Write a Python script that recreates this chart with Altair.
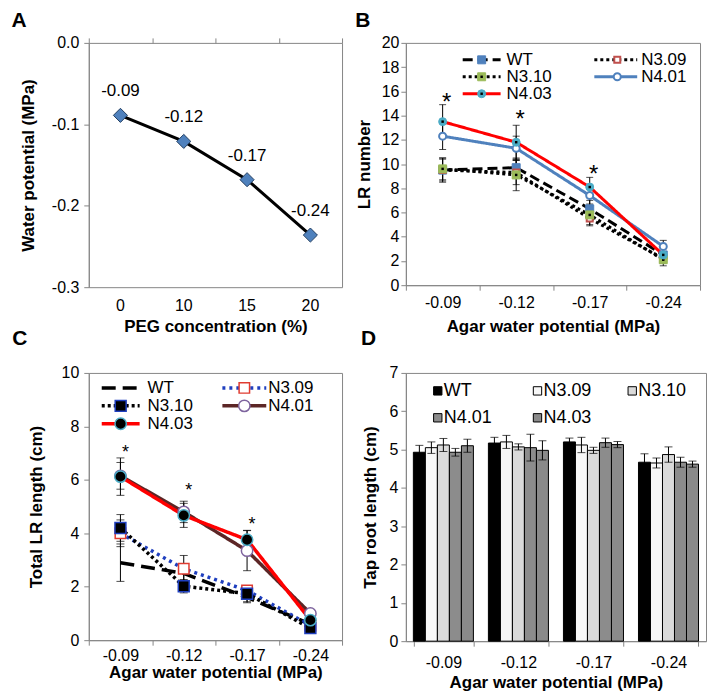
import altair as alt
import pandas as pd

FONT = "Liberation Sans"
GRAY = "#868686"

# ---------------- Panel A : PEG concentration vs water potential ----------------
peg_conc = ["0", "10", "15", "20"]
peg_potential = [-0.089, -0.121, -0.168, -0.236]
peg_potential_labels = ["-0.09", "-0.12", "-0.17", "-0.24"]

# ---------------- shared categories ----------------
agar_potential = ["-0.09", "-0.12", "-0.17", "-0.24"]
lines = ["WT", "N3.09", "N3.10", "N4.01", "N4.03"]

# ---------------- Panel B : LR number ----------------
lr_num_wt = [9.5, 9.7, 6.3, 2.5]
lr_num_n309 = [9.5, 9.3, 5.5, 2.2]
lr_num_n310 = [9.6, 9.1, 5.8, 2.1]
lr_num_n401 = [12.3, 11.3, 7.4, 3.2]
lr_num_n403 = [13.5, 11.8, 8.1, 2.5]
lr_num_wt_err = [0.9, 0.8, 0.7, 0.5]
lr_num_n309_err = [1.0, 1.0, 0.6, 0.4]
lr_num_n310_err = [0.9, 1.3, 0.8, 0.5]
lr_num_n401_err = [1.1, 1.0, 0.7, 0.5]
lr_num_n403_err = [1.4, 1.4, 0.8, 0.6]
lr_num_star_cat = ["-0.09", "-0.12", "-0.17"]
lr_num_star_y = [15.5, 14.1, 9.6]

# ---------------- Panel C : total LR length ----------------
lr_len_wt = [2.9, 2.5, 1.6, 0.6]
lr_len_n309 = [4.0, 2.67, 1.86, 0.55]
lr_len_n310 = [4.2, 2.02, 1.74, 0.45]
lr_len_n401 = [6.15, 4.8, 3.35, 1.0]
lr_len_n403 = [6.12, 4.67, 3.76, 0.75]
lr_len_wt_err = [0.7, 0.3, 0.2, 0.1]
lr_len_n309_err = [0.5, 0.5, 0.15, 0.1]
lr_len_n310_err = [0.5, 0.25, 0.3, 0.1]
lr_len_n401_err = [0.5, 0.4, 0.75, 0.1]
lr_len_n403_err = [0.7, 0.45, 0.35, 0.15]
lr_len_star_cat = ["-0.09", "-0.12", "-0.17"]
lr_len_star_y = [7.2, 5.75, 4.5]

# ---------------- Panel D : tap root length ----------------
tap_wt = [4.93, 5.17, 5.2, 4.67]
tap_n309 = [5.05, 5.2, 5.12, 4.65]
tap_n310 = [5.12, 5.07, 4.98, 4.87]
tap_n401 = [4.93, 5.05, 5.18, 4.67]
tap_n403 = [5.1, 4.98, 5.13, 4.62]
tap_wt_err = [0.18, 0.15, 0.1, 0.22]
tap_n309_err = [0.15, 0.17, 0.2, 0.13]
tap_n310_err = [0.17, 0.08, 0.08, 0.2]
tap_n401_err = [0.1, 0.35, 0.12, 0.13]
tap_n403_err = [0.17, 0.25, 0.08, 0.08]

# ---------------- styles ----------------
b_line_color = ["black", "black", "black", "#4F81BD", "#FF0000"]
b_dash = [[10, 5], [3, 3], [3, 3], [1, 0], [1, 0]]
b_shape = ["square", "square", "square", "circle", "circle"]
b_fill = ["#4F81BD", "white", "#9BBB59", "white", "#4BACC6"]
b_stroke = ["#4F81BD", "#C0504D", "#9BBB59", "#4F81BD", "#4BACC6"]
b_size = [64, 36, 64, 50, 64]
b_sw = [1, 2, 1, 2, 1]
b_dot = [False, False, True, False, True]

c_line_color = ["black", "#1F3FBF", "black", "#5C2626", "#FF0000"]
c_dash = [[14, 7], [3, 4], [3, 3], [1, 0], [1, 0]]
c_shape = [None, "square", "square", "circle", "circle"]
c_fill = [None, "white", "black", "white", "black"]
c_stroke = [None, "#E03C31", "#1F3FBF", "#7E649E", "#4BACC6"]
c_size = [0, 110, 120, 130, 130]

d_fill = ["black", "#F7F7F7", "#DADADA", "#8C8C8C", "#8A8A8A"]


def long_df(vals_list, err_list):
    rows = []
    for s, vals, errs in zip(lines, vals_list, err_list):
        for c, v, e in zip(agar_potential, vals, errs):
            rows.append({"cat": c, "series": s, "v": v, "lo": v - e, "hi": v + e})
    return pd.DataFrame(rows)


band = alt.Scale(type="band", paddingInner=0, paddingOuter=0)
fix_minus = "replace(datum.label, '\u2212', '-')"


def panel_title(letter, dx, offset):
    return alt.TitleParams(text=letter, anchor="start", frame="bounds", fontSize=21,
                           fontWeight="bold", font=FONT, dx=dx, offset=offset, color="black")


one = pd.DataFrame({"k": [0]})

# ================= Panel A =================
dfA = pd.DataFrame({"peg": peg_conc, "wp": peg_potential, "lab": peg_potential_labels})
xA = alt.X("peg:N", sort=peg_conc, scale=band, bandPosition=0.5,
           axis=alt.Axis(title="PEG concentration (%)", labelAngle=0, ticks=False, domain=False,
                         labelPadding=10, titlePadding=5))
xA_plain = alt.X("peg:N", sort=peg_conc, scale=band, bandPosition=0.5, axis=None)
yA = alt.Y("wp:Q", scale=alt.Scale(domain=[-0.3, 0], nice=False, zero=False),
           axis=alt.Axis(title="Water potential (MPa)", values=[0, -0.1, -0.2, -0.3], format=".1f",
                         labelExpr=fix_minus, labelPadding=5, titlePadding=14))
lineA = alt.Chart(dfA).mark_line(color="black", strokeWidth=3).encode(x=xA, y=yA)
ptsA = alt.Chart(dfA).mark_point(shape="diamond", filled=True, fill="#4F81BD", stroke="#243F60",
                                 strokeWidth=1, size=200, opacity=1).encode(x=xA_plain, y=yA)
txtA = alt.Chart(dfA).mark_text(dy=-24, fontSize=17, font=FONT, color="black").encode(
    x=xA_plain, y=yA, text="lab:N")
ticksA = alt.Chart(dfA).mark_point(opacity=0).encode(
    x=alt.X("peg:N", sort=peg_conc, scale=band,
            axis=alt.Axis(title=None, orient="top", labels=False, tickBand="extent", domain=False)))
panelA = alt.layer(lineA, ptsA, txtA, ticksA).resolve_axis(x="independent").properties(
    width=254, height=245, title=panel_title("A", -8, 4))

# ================= Panel B =================
dfB = long_df([lr_num_wt, lr_num_n309, lr_num_n310, lr_num_n401, lr_num_n403],
              [lr_num_wt_err, lr_num_n309_err, lr_num_n310_err, lr_num_n401_err, lr_num_n403_err])
xB = alt.X("cat:N", sort=agar_potential, scale=band, bandPosition=0.5,
           axis=alt.Axis(title="Agar water potential (MPa)", labelAngle=0, tickBand="extent",
                         labelPadding=4, titlePadding=8, labelExpr=fix_minus))
yB_scale = alt.Scale(domain=[0, 20], nice=False)
yB_axis = alt.Axis(title="LR number", values=list(range(0, 21, 2)), labelPadding=2, titlePadding=8)
yB = alt.Y("v:Q", scale=yB_scale, axis=yB_axis)
yB_lo = alt.Y("lo:Q", scale=yB_scale, axis=yB_axis)
yB_hi = alt.Y("hi:Q", scale=yB_scale, axis=yB_axis)
layersB = []
for i, s in enumerate(lines):
    layersB.append(alt.Chart(dfB).transform_filter(alt.datum.series == s).mark_line(
        color=b_line_color[i], strokeDash=b_dash[i], strokeWidth=3).encode(x=xB, y=yB))
layersB.append(alt.Chart(dfB).mark_rule(color="black", strokeWidth=1).encode(x=xB, y=yB_lo, y2="hi:Q"))
layersB.append(alt.Chart(dfB).mark_tick(orient="horizontal", size=7, thickness=1, color="black").encode(x=xB, y=yB_lo))
layersB.append(alt.Chart(dfB).mark_tick(orient="horizontal", size=7, thickness=1, color="black").encode(x=xB, y=yB_hi))
for i, s in enumerate(lines):
    layersB.append(alt.Chart(dfB).transform_filter(alt.datum.series == s).mark_point(
        shape=b_shape[i], filled=True, fill=b_fill[i], stroke=b_stroke[i], strokeWidth=b_sw[i],
        size=b_size[i], opacity=1).encode(x=xB, y=yB))
    if b_dot[i]:
        layersB.append(alt.Chart(dfB).transform_filter(alt.datum.series == s).mark_point(
            shape="square", filled=True, color="black", size=6, opacity=1).encode(x=xB, y=yB))
dfBs = pd.DataFrame({"cat": lr_num_star_cat, "v": lr_num_star_y})
layersB.append(alt.Chart(dfBs).mark_text(text="*", fontSize=24, font=FONT, dx=4, dy=13,
                                         baseline="alphabetic", color="black").encode(x=xB, y=yB))
# legend B (positions relative to plot area)
legB_pos = {"WT": (57, 95, 76, 101, 17), "N3.10": (57, 95, 76, 101, 34), "N4.03": (57, 95, 76, 101, 51),
            "N3.09": (189, 232, 212, 236, 17), "N4.01": (189, 232, 212, 236, 34)}
for i, s in enumerate(lines):
    x1, x2, xm, xt, yy = legB_pos[s]
    layersB.append(alt.Chart(one).mark_rule(color=b_line_color[i], strokeDash=b_dash[i], strokeWidth=3).encode(
        x=alt.value(x1), x2=alt.value(x2), y=alt.value(yy)))
    layersB.append(alt.Chart(one).mark_point(shape=b_shape[i], filled=True, fill=b_fill[i], stroke=b_stroke[i],
                                             strokeWidth=b_sw[i], size=b_size[i], opacity=1).encode(
        x=alt.value(xm), y=alt.value(yy)))
    if b_dot[i]:
        layersB.append(alt.Chart(one).mark_point(shape="square", filled=True, color="black", size=6, opacity=1).encode(
            x=alt.value(xm), y=alt.value(yy)))
    layersB.append(alt.Chart(one).mark_text(text=s, fontSize=17, font=FONT, align="left", baseline="middle",
                                            color="black").encode(x=alt.value(xt), y=alt.value(yy)))
panelB = alt.layer(*layersB).properties(width=295, height=243, title=panel_title("B", 0, 4))

# ================= Panel C =================
dfC = long_df([lr_len_wt, lr_len_n309, lr_len_n310, lr_len_n401, lr_len_n403],
              [lr_len_wt_err, lr_len_n309_err, lr_len_n310_err, lr_len_n401_err, lr_len_n403_err])
xC = alt.X("cat:N", sort=agar_potential, scale=band, bandPosition=0.5,
           axis=alt.Axis(title="Agar water potential (MPa)", labelAngle=0, tickBand="extent",
                         labelPadding=2, titlePadding=1, labelExpr=fix_minus))
yC_scale = alt.Scale(domain=[0, 10], nice=False)
yC_axis = alt.Axis(title="Total LR length (cm)", values=list(range(0, 11, 2)), labelPadding=5, titlePadding=16)
yC = alt.Y("v:Q", scale=yC_scale, axis=yC_axis)
yC_lo = alt.Y("lo:Q", scale=yC_scale, axis=yC_axis)
yC_hi = alt.Y("hi:Q", scale=yC_scale, axis=yC_axis)
layersC = []
for i, s in enumerate(lines):
    layersC.append(alt.Chart(dfC).transform_filter(alt.datum.series == s).mark_line(
        color=c_line_color[i], strokeDash=c_dash[i], strokeWidth=3.5).encode(x=xC, y=yC))
layersC.append(alt.Chart(dfC).mark_rule(color="black", strokeWidth=1).encode(x=xC, y=yC_lo, y2="hi:Q"))
layersC.append(alt.Chart(dfC).mark_tick(orient="horizontal", size=8, thickness=1, color="black").encode(x=xC, y=yC_lo))
layersC.append(alt.Chart(dfC).mark_tick(orient="horizontal", size=8, thickness=1, color="black").encode(x=xC, y=yC_hi))
for i, s in enumerate(lines):
    if c_shape[i] is None:
        continue
    layersC.append(alt.Chart(dfC).transform_filter(alt.datum.series == s).mark_point(
        shape=c_shape[i], filled=True, fill=c_fill[i], stroke=c_stroke[i], strokeWidth=1.5,
        size=c_size[i], opacity=1).encode(x=xC, y=yC))
dfCs = pd.DataFrame({"cat": lr_len_star_cat, "v": lr_len_star_y})
layersC.append(alt.Chart(dfCs).mark_text(text="*", fontSize=18, font=FONT, dx=5, dy=10,
                                         baseline="alphabetic", color="black").encode(x=xC, y=yC))
legC_pos = {"WT": (13, 51, 32, 59, 15), "N3.10": (13, 51, 32, 59, 33), "N4.03": (13, 51, 32, 59, 51),
            "N3.09": (134, 178, 156, 180, 15), "N4.01": (134, 178, 156, 180, 33)}
for i, s in enumerate(lines):
    x1, x2, xm, xt, yy = legC_pos[s]
    layersC.append(alt.Chart(one).mark_rule(color=c_line_color[i], strokeDash=c_dash[i], strokeWidth=3.5).encode(
        x=alt.value(x1), x2=alt.value(x2), y=alt.value(yy)))
    if c_shape[i] is not None:
        layersC.append(alt.Chart(one).mark_point(shape=c_shape[i], filled=True, fill=c_fill[i], stroke=c_stroke[i],
                                                 strokeWidth=1.5, size=c_size[i], opacity=1).encode(
            x=alt.value(xm), y=alt.value(yy)))
    layersC.append(alt.Chart(one).mark_text(text=s, fontSize=17, font=FONT, align="left", baseline="middle",
                                            color="black").encode(x=alt.value(xt), y=alt.value(yy)))
panelC = alt.layer(*layersC).properties(width=254, height=268, title=panel_title("C", -15, 16))

# ================= Panel D =================
dfD = long_df([tap_wt, tap_n309, tap_n310, tap_n401, tap_n403],
              [tap_wt_err, tap_n309_err, tap_n310_err, tap_n401_err, tap_n403_err])
xD = alt.X("cat:N", sort=agar_potential, scale=alt.Scale(paddingInner=0.2, paddingOuter=0.1),
           axis=alt.Axis(title="Agar water potential (MPa)", labelAngle=0, tickBand="extent",
                         labelPadding=8, titlePadding=4, labelExpr=fix_minus))
xoD = alt.XOffset("series:N", sort=lines, scale=alt.Scale(paddingInner=0, paddingOuter=0))
yD_scale = alt.Scale(domain=[0, 7], nice=False)
yD_axis = alt.Axis(title="Tap root length (cm)", values=list(range(0, 8)), labelPadding=3, titlePadding=10)
yD = alt.Y("v:Q", scale=yD_scale, axis=yD_axis)
yD_lo = alt.Y("lo:Q", scale=yD_scale, axis=yD_axis)
yD_hi = alt.Y("hi:Q", scale=yD_scale, axis=yD_axis)
barsD = alt.Chart(dfD).mark_bar(stroke="black", strokeWidth=1).encode(
    x=xD, xOffset=xoD, y=yD,
    fill=alt.Fill("series:N", scale=alt.Scale(domain=lines, range=d_fill), legend=None))
errD = alt.Chart(dfD).mark_rule(color="black", strokeWidth=1).encode(x=xD, xOffset=xoD, y=yD_lo, y2="hi:Q")
capLoD = alt.Chart(dfD).mark_tick(orient="horizontal", size=8, thickness=1, color="black").encode(
    x=xD, xOffset=xoD, y=yD_lo)
capHiD = alt.Chart(dfD).mark_tick(orient="horizontal", size=8, thickness=1, color="black").encode(
    x=xD, xOffset=xoD, y=yD_hi)
layersD = [barsD, errD, capLoD, capHiD]
legD_pos = {"WT": (32, 38, 18), "N3.09": (132, 138, 18), "N3.10": (227, 233, 18),
            "N4.01": (32, 38, 45), "N4.03": (132, 138, 45)}
for i, s in enumerate(lines):
    xm, xt, yy = legD_pos[s]
    layersD.append(alt.Chart(one).mark_point(shape="square", filled=True, fill=d_fill[i], stroke="black",
                                             strokeWidth=1, size=70, opacity=1).encode(x=alt.value(xm), y=alt.value(yy)))
    layersD.append(alt.Chart(one).mark_text(text=s, fontSize=18, font=FONT, align="left", baseline="middle",
                                            color="black").encode(x=alt.value(xt), y=alt.value(yy)))
panelD = alt.layer(*layersD).properties(width=301, height=269, title=panel_title("D", 0, 16))

top = alt.hconcat(panelA, panelB, spacing=11)
bottom = alt.hconcat(panelC, panelD, spacing=17)
chart = alt.vconcat(top, bottom, spacing=-8).properties(
    padding={"left": 2, "top": 0, "right": 2, "bottom": 2}
).configure_view(stroke=GRAY, strokeWidth=1).configure_axis(
    labelFont=FONT, titleFont=FONT, labelFontSize=16, titleFontSize=17, titleFontWeight="bold",
    labelColor="black", titleColor="black", domainColor=GRAY, tickColor=GRAY, tickSize=5, grid=False,
    labelOverlap=False
).configure_title(font=FONT)

chart.save("out.html", embed_options={"renderer": "svg", "actions": False})
